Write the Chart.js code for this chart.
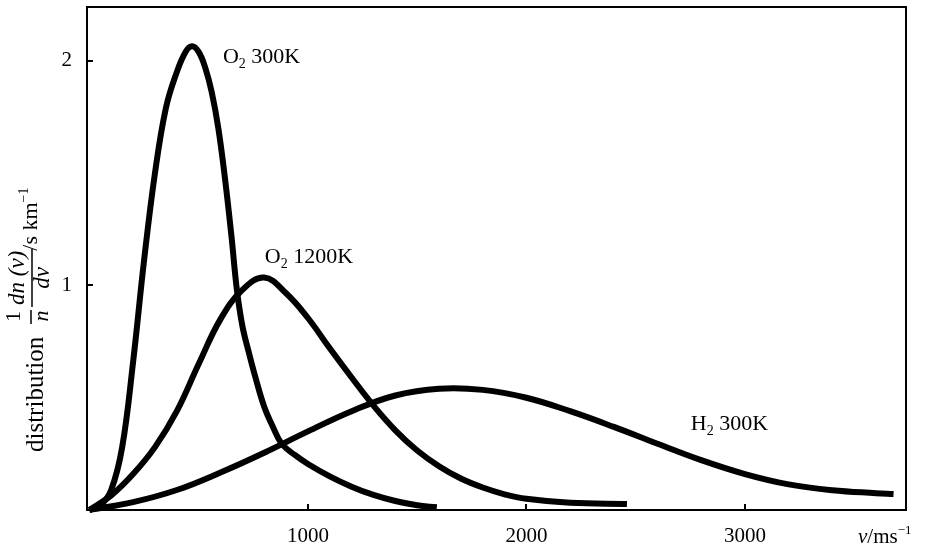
<!DOCTYPE html>
<html>
<head>
<meta charset="utf-8">
<script src="https://cdn.jsdelivr.net/npm/chart.js@4.4.1/dist/chart.umd.min.js"></script>
<style>
  html, body { margin: 0; padding: 0; background: #fff; }
  #chart { display: block; }
</style>
</head>
<body>
<canvas id="chart" width="930" height="550"></canvas>
<script>
// speed v (m/s) and distribution (s/km) along each curve
const o2ColdSpeed = [0, 50, 100, 150, 200, 250, 300, 350, 400, 440, 470, 500, 530, 560, 590, 620, 650, 675, 700, 730, 760, 800, 840, 880, 940, 1000, 1100, 1200, 1300, 1400, 1500, 1590];
const o2ColdDist = [0, 0.02, 0.09, 0.28, 0.66, 1.11, 1.50, 1.79, 1.95, 2.04, 2.065, 2.04, 1.97, 1.86, 1.70, 1.48, 1.22, 0.98, 0.82, 0.70, 0.59, 0.46, 0.37, 0.295, 0.245, 0.205, 0.15, 0.104, 0.067, 0.040, 0.021, 0.012];

const o2HotSpeed = [0, 100, 200, 300, 400, 500, 600, 700, 800, 900, 1000, 1100, 1200, 1300, 1400, 1500, 1600, 1700, 1800, 1900, 2000, 2200, 2460];
const o2HotDist = [0, 0.065, 0.16, 0.28, 0.44, 0.65, 0.85, 0.98, 1.035, 0.965, 0.855, 0.72, 0.59, 0.465, 0.355, 0.265, 0.195, 0.14, 0.10, 0.07, 0.05, 0.032, 0.027];

const h2Speed = [0, 200, 400, 600, 800, 1000, 1200, 1400, 1600, 1800, 2000, 2200, 2400, 2600, 2800, 3000, 3200, 3400, 3600, 3680];
const h2Dist = [0, 0.035, 0.089, 0.167, 0.255, 0.35, 0.44, 0.51, 0.54, 0.535, 0.50, 0.44, 0.37, 0.295, 0.222, 0.16, 0.114, 0.088, 0.075, 0.071];

const seriesNames = ['O₂ 300K', 'O₂ 1200K', 'H₂ 300K'];
const xTickValues = [1000, 2000, 3000];
const yTickValues = [1, 2];

const SERIF = "'Liberation Serif', 'Times New Roman', serif";

const toPoints = (xs, ys) => xs.map((x, i) => ({ x: x, y: ys[i] }));

// split "O₂ 300K" into plain / subscript runs
function splitSub(text) {
  const subs = { '₀': '0', '₁': '1', '₂': '2', '₃': '3', '₄': '4' };
  const parts = [];
  for (const ch of text) {
    const sub = subs[ch] !== undefined;
    const t = sub ? subs[ch] : ch;
    const last = parts[parts.length - 1];
    if (last && last.sub === sub) last.t += t;
    else parts.push({ t: t, sub: sub });
  }
  return parts;
}

function runFont(p, size) {
  const s = (p.sub || p.sup) ? Math.round(size * 0.64) : size;
  return (p.italic ? 'italic ' : '') + s + 'px ' + SERIF;
}

// draw runs of text left to right from (x, y) on the baseline
function drawRuns(ctx, parts, x, y, size) {
  parts.forEach(p => {
    const dy = p.sub ? size * 0.22 : (p.sup ? -size * 0.42 : 0);
    ctx.font = runFont(p, size);
    ctx.fillText(p.t, x, y + dy);
    x += ctx.measureText(p.t).width;
  });
  return x;
}

function runsWidth(ctx, parts, size) {
  let w = 0;
  parts.forEach(p => {
    ctx.font = runFont(p, size);
    w += ctx.measureText(p.t).width;
  });
  return w;
}

// box around the plot and short inward tick marks
const framePlugin = {
  id: 'frame',
  afterDraw(chart) {
    const { ctx, chartArea: a, scales: { x, y } } = chart;
    ctx.save();
    ctx.strokeStyle = '#000';
    ctx.lineWidth = 2;
    ctx.strokeRect(a.left, a.top, a.right - a.left, a.bottom - a.top);
    ctx.beginPath();
    x.ticks.forEach(t => {
      const px = Math.round(x.getPixelForValue(t.value));
      ctx.moveTo(px, a.bottom + 1);
      ctx.lineTo(px, a.bottom - 6);
    });
    y.ticks.forEach(t => {
      const py = Math.round(y.getPixelForValue(t.value));
      ctx.moveTo(a.left - 1, py);
      ctx.lineTo(a.left + 6, py);
    });
    ctx.stroke();
    ctx.restore();
  }
};

// names written next to each curve
const curveLabels = {
  id: 'curveLabels',
  afterDatasetsDraw(chart, args, opts) {
    const { ctx, scales: { x, y } } = chart;
    ctx.save();
    ctx.fillStyle = '#000';
    ctx.textAlign = 'left';
    ctx.textBaseline = 'alphabetic';
    opts.items.forEach((item, i) => {
      drawRuns(ctx, splitSub(seriesNames[i]), x.getPixelForValue(item[0]), y.getPixelForValue(item[1]), 22);
    });
    ctx.restore();
  }
};

// axis titles: rotated fraction on the left, v/ms^-1 at bottom right
const axisTitles = {
  id: 'axisTitles',
  afterDraw(chart) {
    const ctx = chart.ctx;
    ctx.save();
    ctx.fillStyle = '#000';
    ctx.strokeStyle = '#000';
    ctx.textBaseline = 'alphabetic';
    ctx.textAlign = 'left';

    // x title
    drawRuns(ctx, [{ t: 'v', italic: true }, { t: '/ms' }, { t: '−1', sup: true }], 858, 543, 21);

    // y title, drawn in a frame turned -90deg: u runs up the page, w runs right
    ctx.rotate(-Math.PI / 2);
    const at = (py) => -py;

    drawRuns(ctx, [{ t: 'distribution' }], at(452), 43, 25);

    // 1 / n
    ctx.lineWidth = 1.5;
    drawRuns(ctx, [{ t: '1' }], at(322), 20, 22);
    const nW = runsWidth(ctx, [{ t: 'n', italic: true }], 22);
    drawRuns(ctx, [{ t: 'n', italic: true }], at(316) - nW / 2, 48, 22);
    ctx.beginPath();
    ctx.moveTo(at(324), 31);
    ctx.lineTo(at(310), 31);
    ctx.stroke();

    // dn(v) / dv
    const numW = runsWidth(ctx, [{ t: 'dn (v)', italic: true }], 23);
    const numStart = at(305);
    drawRuns(ctx, [{ t: 'dn (v)', italic: true }], numStart, 24, 23);
    const dvW = runsWidth(ctx, [{ t: 'dv', italic: true }], 23);
    drawRuns(ctx, [{ t: 'dv', italic: true }], numStart + numW / 2 - dvW / 2, 49, 23);
    ctx.beginPath();
    ctx.moveTo(numStart - 2, 32);
    ctx.lineTo(numStart + numW + 2, 32);
    ctx.stroke();

    // /s km^-1
    drawRuns(ctx, [{ t: '/s km' }, { t: '−1', sup: true }], numStart + numW, 37, 22);
    ctx.restore();
  }
};

const noPad = s => { s.paddingTop = 0; s.paddingBottom = 0; s.paddingLeft = 0; s.paddingRight = 0; };

new Chart(document.getElementById('chart'), {
  type: 'line',
  data: {
    datasets: [
      { label: seriesNames[0], data: toPoints(o2ColdSpeed, o2ColdDist) },
      { label: seriesNames[1], data: toPoints(o2HotSpeed, o2HotDist) },
      { label: seriesNames[2], data: toPoints(h2Speed, h2Dist) }
    ]
  },
  options: {
    responsive: false,
    animation: false,
    devicePixelRatio: 1,
    clip: false,
    layout: { padding: { top: 7, right: 24, left: 0, bottom: 0 } },
    elements: {
      line: {
        borderColor: '#000',
        borderWidth: 6,
        borderCapStyle: 'butt',
        borderJoinStyle: 'round',
        tension: 0.4,
        fill: false
      },
      point: { radius: 0, hoverRadius: 0 }
    },
    plugins: {
      legend: { display: false },
      tooltip: { enabled: false },
      curveLabels: { items: [[611, 1.99], [803, 1.10], [2752, 0.356]] }
    },
    scales: {
      x: {
        type: 'linear',
        min: -11,
        max: 3737,
        grid: { display: false, drawTicks: false },
        border: { display: false },
        afterBuildTicks: s => { s.ticks = xTickValues.map(v => ({ value: v })); },
        afterFit: s => { s.height = 40; noPad(s); },
        ticks: {
          color: '#000',
          padding: 14,
          maxRotation: 0,
          font: { family: SERIF, size: 21 },
          callback: v => String(v)
        }
      },
      y: {
        type: 'linear',
        min: 0,
        max: 2.24,
        grid: { display: false, drawTicks: false },
        border: { display: false },
        afterBuildTicks: s => { s.ticks = yTickValues.map(v => ({ value: v })); },
        afterFit: s => { s.width = 87; noPad(s); },
        ticks: {
          color: '#000',
          padding: 15,
          font: { family: SERIF, size: 21 },
          callback: v => String(v)
        }
      }
    }
  },
  plugins: [framePlugin, curveLabels, axisTitles]
});
</script>
</body>
</html>
